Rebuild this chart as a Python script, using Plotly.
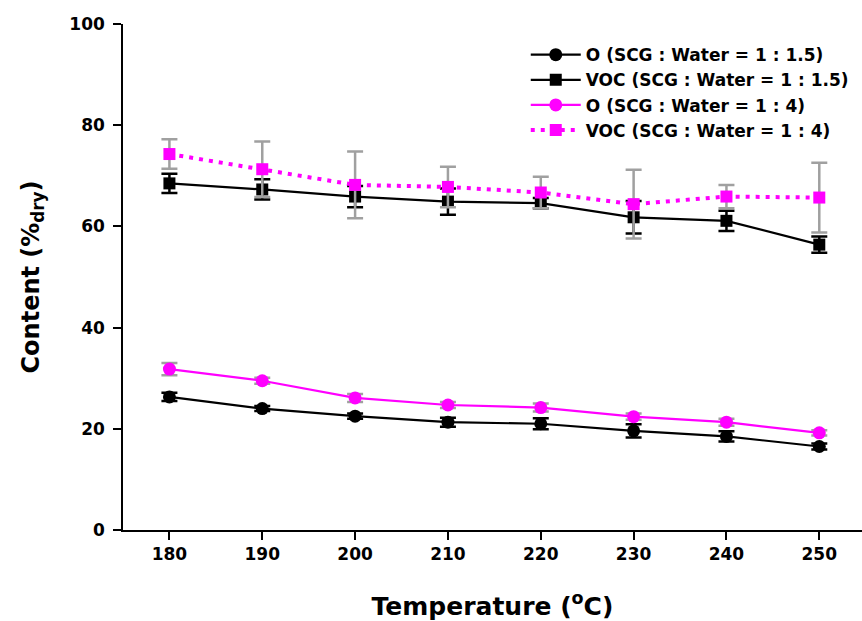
import plotly.graph_objects as go

temps = [180, 190, 200, 210, 220, 230, 240, 250]

o_15 = [26.3, 24.0, 22.5, 21.3, 21.0, 19.6, 18.5, 16.5]
o_15_err = [0.8, 0.5, 0.5, 0.9, 1.1, 1.3, 1.0, 0.6]
voc_15 = [68.5, 67.3, 65.9, 64.9, 64.6, 61.8, 61.1, 56.4]
voc_15_err = [1.9, 2.0, 2.1, 2.6, 1.0, 3.2, 2.0, 1.6]

o_4 = [31.8, 29.5, 26.1, 24.7, 24.2, 22.4, 21.3, 19.2]
o_4_err = [1.2, 0.6, 0.8, 0.6, 0.8, 0.6, 0.7, 0.5]
voc_4 = [74.3, 71.3, 68.2, 67.8, 66.7, 64.4, 65.9, 65.7]
voc_4_err = [2.9, 5.5, 6.6, 4.0, 3.1, 6.8, 2.3, 6.9]

names = ["O (SCG : Water = 1 : 1.5)", "VOC (SCG : Water = 1 : 1.5)",
         "O (SCG : Water = 1 : 4)", "VOC (SCG : Water = 1 : 4)"]

BLACK = "#000000"
MAG = "#ff00ff"
GRAY = "#a0a0a0"

fig = go.Figure()

def add(y, err, name, color, ecolor, symbol, dash, size, lw):
    fig.add_trace(go.Scatter(
        x=temps, y=y, name=name, mode="lines+markers",
        line=dict(color=color, width=lw, dash=dash),
        marker=dict(color=color, symbol=symbol, size=size),
        error_y=dict(type="data", array=err, visible=True, color=ecolor,
                     thickness=2.5, width=8),
    ))

add(o_15, o_15_err, names[0], BLACK, BLACK, "circle", "solid", 13, 2.2)
add(voc_15, voc_15_err, names[1], BLACK, BLACK, "square", "solid", 12, 2.2)
add(o_4, o_4_err, names[2], MAG, GRAY, "circle", "solid", 13, 2.2)
add(voc_4, voc_4_err, names[3], MAG, GRAY, "square", "4px,6px", 12, 4)

font_family = "DejaVu Sans, sans-serif"

fig.update_layout(
    width=862, height=621,
    paper_bgcolor="white", plot_bgcolor="white",
    margin=dict(l=123, r=0, t=24, b=91),
    font=dict(family=font_family, color="black"),
    showlegend=True,
    legend=dict(
        x=0.545, y=0.974, xanchor="left", yanchor="top",
        font=dict(size=17, family=font_family, color="black", weight="bold"),
        bgcolor="rgba(0,0,0,0)", tracegroupgap=0, itemwidth=50,
    ),
    xaxis=dict(
        range=[175, 254.6], tickvals=temps, ticktext=[str(t) for t in temps],
        showline=True, linecolor="black", linewidth=1.5, mirror=False,
        ticks="outside", ticklen=8, tickwidth=1.5, tickcolor="black",
        showgrid=False, zeroline=False, automargin=False,
        tickfont=dict(size=17, family=font_family, color="black", weight="bold"),
        title=dict(text="Temperature (<sup>o</sup>C)",
                   font=dict(size=25, family=font_family, color="black", weight="bold"),
                   standoff=34),
    ),
    yaxis=dict(
        range=[0, 100], tickvals=[0, 20, 40, 60, 80, 100],
        showline=True, linecolor="black", linewidth=1.5, mirror=False,
        ticks="outside", ticklen=8, tickwidth=1.5, tickcolor="black",
        showgrid=False, zeroline=False, automargin=False,
        ticklabelstandoff=5,
        tickfont=dict(size=17, family=font_family, color="black", weight="bold"),
        title=dict(text="Content (%<sub>dry</sub>)",
                   font=dict(size=24, family=font_family, color="black", weight="bold"),
                   standoff=23),
    ),
)

fig.write_html("out.html", config={"displayModeBar": False},
               post_script="document.body.style.margin='0';")
